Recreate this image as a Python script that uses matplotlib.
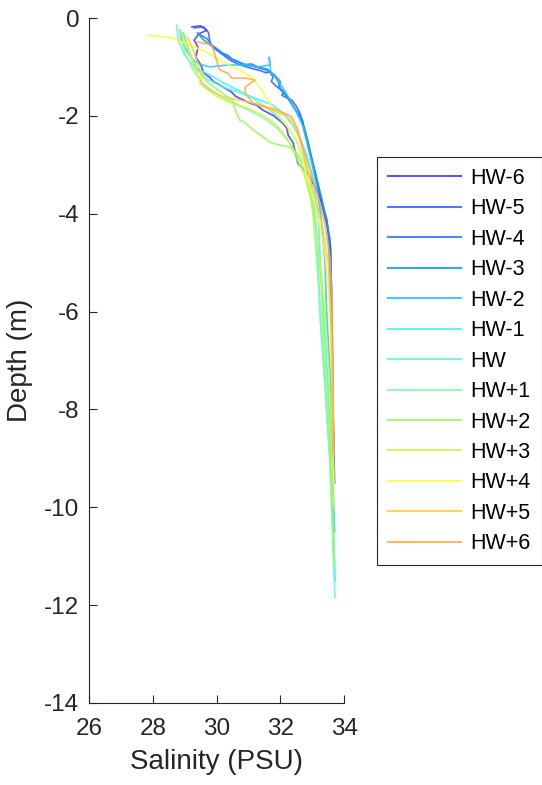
import matplotlib
matplotlib.use('Agg')
from matplotlib import pyplot as plt

plt.rcParams['font.family'] = ['Liberation Sans', 'DejaVu Sans']
plt.rcParams['axes.unicode_minus'] = False

labels = ['HW-6', 'HW-5', 'HW-4', 'HW-3', 'HW-2', 'HW-1', 'HW',
          'HW+1', 'HW+2', 'HW+3', 'HW+4', 'HW+5', 'HW+6']
colors = ['#3c3cf5', '#3a5aff', '#2a72ff', '#1296f5', '#22c6ff', '#40f4ff', '#5cf8d8',
          '#84f8ac', '#98f860', '#ccf444', '#fcfc3c', '#ffcc40', '#ffaa48']

# salinity (PSU) / depth (m) for each cast
sal_hw_m6 = [29.23, 29.5, 29.7, 29.45, 29.3, 29.42, 29.35, 29.5, 29.6, 29.8, 29.9, 30.0,
             30.3, 30.45, 30.6, 31.05, 31.25, 31.45, 31.8, 32.08, 32.2, 32.25, 32.4, 32.45,
             32.55, 32.9, 33.0, 33.24, 33.45, 33.55, 33.6, 33.62, 33.65, 33.68]
dep_hw_m6 = [-0.18, -0.16, -0.25, -0.32, -0.45, -0.6, -0.8, -0.95, -1.12, -1.22, -1.3,
             -1.33, -1.45, -1.5, -1.6, -1.74, -1.78, -1.88, -2.0, -2.15, -2.25, -2.4, -2.55,
             -2.7, -2.97, -3.2, -3.35, -3.66, -4.1, -4.6, -5.5, -6.8, -8.0, -9.0]

sal_hw_m5 = [29.3, 29.6, 29.75, 29.8, 29.9, 30.1, 30.3, 30.42, 30.7, 30.85, 31.05, 31.4,
             31.55, 31.67, 31.77, 31.72, 31.9, 32.1, 32.05, 32.36, 32.5, 32.61, 32.77, 32.85,
             32.93, 33.08, 33.24, 33.45, 33.58, 33.6, 33.62, 33.66, 33.7]
dep_hw_m5 = [-0.2, -0.18, -0.3, -0.52, -0.6, -0.7, -0.8, -0.86, -0.95, -0.98, -1.02,
             -1.08, -1.12, -1.1, -1.2, -1.3, -1.41, -1.5, -1.58, -1.68, -1.8, -1.94, -2.29,
             -2.5, -2.76, -3.17, -3.66, -4.2, -4.7, -5.8, -7.0, -8.4, -9.5]

sal_hw_m4 = [29.5, 29.7, 29.85, 30.2, 30.35, 30.5, 30.9, 31.1, 31.3, 31.6, 31.85, 31.95,
             32.0, 32.2, 32.3, 32.45, 32.7, 32.75, 32.85, 33.0, 33.15, 33.35, 33.55, 33.6,
             33.63, 33.65, 33.68]
dep_hw_m4 = [-0.35, -0.42, -0.55, -0.72, -0.76, -0.85, -0.95, -0.94, -1.0, -1.05, -1.2,
             -1.32, -1.45, -1.6, -1.7, -1.85, -2.1, -2.3, -2.5, -2.9, -3.3, -3.9, -4.5,
             -5.5, -6.8, -8.0, -9.2]

sal_hw_m3 = [29.4, 29.6, 29.9, 30.1, 30.3, 30.7, 30.8, 31.1, 31.5, 31.65, 31.8, 32.0, 31.95,
             32.15, 32.4, 32.5, 32.65, 32.8, 32.95, 33.1, 33.3, 33.5, 33.55, 33.6, 33.63,
             33.66]
dep_hw_m3 = [-0.3, -0.45, -0.6, -0.7, -0.78, -0.9, -0.95, -0.98, -1.05, -1.1, -1.15, -1.3,
             -1.42, -1.55, -1.8, -1.9, -2.05, -2.4, -2.8, -3.2, -3.7, -4.3, -5.2, -6.5,
             -7.8, -9.0]

sal_hw_m2 = [28.85, 28.9, 29.0, 29.26, 29.5, 29.8, 30.33, 30.95, 31.3, 31.67, 31.65, 31.7,
             31.95, 32.2, 32.45, 32.7, 32.85, 33.0, 33.15, 33.3, 33.4, 33.45, 33.55, 33.6,
             33.65, 33.7]
dep_hw_m2 = [-0.25, -0.45, -0.6, -0.86, -0.95, -1.0, -0.96, -0.96, -1.0, -0.96, -0.8,
             -1.1, -1.3, -1.55, -1.85, -2.2, -2.6, -3.0, -3.5, -4.2, -5.0, -6.0, -7.2, -8.4,
             -9.6, -10.5]

sal_hw_m1 = [28.95, 29.05, 29.2, 29.42, 29.6, 29.9, 30.2, 30.6, 31.05, 31.45, 31.77, 32.1,
             32.4, 32.65, 32.85, 33.0, 33.1, 33.2, 33.25, 33.35, 33.45, 33.55, 33.62, 33.68,
             33.72]
dep_hw_m1 = [-0.3, -0.5, -0.8, -1.06, -1.1, -1.2, -1.32, -1.45, -1.6, -1.7, -1.78, -1.95,
             -2.2, -2.5, -2.85, -3.2, -3.6, -4.2, -5.0, -6.0, -7.0, -8.2, -9.5, -10.8,
             -11.5]

sal_hw = [28.75, 28.8, 29.0, 29.3, 29.7, 30.2, 30.7, 31.05, 31.5, 31.9, 32.2, 32.5, 32.75,
          32.95, 33.05, 33.15, 33.2, 33.24, 33.3, 33.4, 33.46, 33.55, 33.6, 33.65, 33.71]
dep_hw = [-0.15, -0.45, -0.75, -1.0, -1.25, -1.41, -1.52, -1.61, -1.8, -2.0, -2.2, -2.5,
          -2.9, -3.3, -3.8, -4.5, -5.3, -5.8, -6.6, -7.5, -8.16, -9.0, -9.8, -10.8, -11.84]

sal_hw_p1 = [28.9, 29.0, 29.3, 29.6, 30.0, 30.5, 31.0, 31.5, 31.9, 32.3, 32.6, 32.85, 33.0,
             33.1, 33.2, 33.25, 33.35, 33.45, 33.55, 33.62, 33.68]
dep_hw_p1 = [-0.3, -0.7, -1.1, -1.35, -1.55, -1.72, -1.88, -2.05, -2.25, -2.55, -2.9, -3.3,
             -3.8, -4.6, -5.5, -6.2, -7.0, -8.0, -9.0, -10.0, -11.0]

sal_hw_p2 = [29.0, 29.1, 29.3, 29.7, 30.1, 30.5, 30.55, 30.6, 30.73, 30.85, 31.0, 31.27,
             31.4, 31.67, 32.0, 32.3, 32.52, 32.75, 32.9, 33.05, 33.2, 33.3, 33.35, 33.45,
             33.55, 33.6, 33.65, 33.7]
dep_hw_p2 = [-0.35, -0.6, -0.95, -1.3, -1.5, -1.68, -1.8, -1.9, -2.09, -2.12, -2.2, -2.35,
             -2.4, -2.54, -2.6, -2.64, -2.76, -3.0, -3.4, -4.0, -4.8, -5.6, -6.5, -7.5,
             -8.5, -9.5, -10.5, -11.2]

sal_hw_p3 = [28.85, 29.0, 29.2, 29.4, 29.6, 30.0, 30.5, 31.0, 31.5, 31.9, 32.25, 32.5,
             32.75, 32.95, 33.1, 33.25, 33.4, 33.5, 33.58, 33.62, 33.66]
dep_hw_p3 = [-0.25, -0.5, -0.8, -1.15, -1.4, -1.6, -1.75, -1.85, -2.0, -2.2, -2.5, -2.85,
             -3.2, -3.7, -4.3, -5.0, -6.0, -7.0, -8.0, -9.0, -10.0]

sal_hw_p4 = [27.85, 28.63, 29.17, 29.7, 30.2, 30.73, 31.14, 31.4, 31.55, 31.67, 31.9, 32.2,
             32.52, 32.7, 32.83, 33.0, 33.2, 33.4, 33.5, 33.58, 33.62, 33.65, 33.68]
dep_hw_p4 = [-0.35, -0.41, -0.55, -0.7, -0.9, -1.06, -1.23, -1.45, -1.62, -1.74, -1.95,
             -2.2, -2.5, -2.9, -3.25, -3.58, -4.1, -4.8, -5.5, -6.5, -7.5, -8.5, -9.5]

sal_hw_p5 = [29.1, 29.3, 29.45, 29.54, 29.48, 29.8, 30.2, 30.73, 31.2, 31.6, 32.0, 32.3,
             32.52, 32.7, 32.85, 33.05, 33.3, 33.5, 33.58, 33.62, 33.65, 33.68]
dep_hw_p5 = [-0.4, -0.7, -1.0, -1.2, -1.33, -1.47, -1.61, -1.68, -1.75, -1.85, -1.95, -2.05,
             -2.3, -2.7, -3.1, -3.6, -4.2, -5.0, -6.0, -7.0, -8.0, -8.9]

sal_hw_p6 = [29.42, 29.86, 30.0, 30.1, 30.36, 30.48, 30.95, 31.2, 30.9, 30.9, 31.14, 31.9,
             32.36, 32.55, 32.7, 32.93, 33.15, 33.4, 33.55, 33.62, 33.65, 33.66, 33.65]
dep_hw_p6 = [-0.49, -0.55, -0.86, -1.06, -1.13, -1.23, -1.23, -1.27, -1.41, -1.54, -1.74,
             -1.88, -2.02, -2.29, -2.64, -3.1, -3.58, -4.2, -4.9, -5.8, -7.0, -8.0, -8.9]

salinity = [sal_hw_m6, sal_hw_m5, sal_hw_m4, sal_hw_m3, sal_hw_m2, sal_hw_m1, sal_hw,
            sal_hw_p1, sal_hw_p2, sal_hw_p3, sal_hw_p4, sal_hw_p5, sal_hw_p6]
depth = [dep_hw_m6, dep_hw_m5, dep_hw_m4, dep_hw_m3, dep_hw_m2, dep_hw_m1, dep_hw,
         dep_hw_p1, dep_hw_p2, dep_hw_p3, dep_hw_p4, dep_hw_p5, dep_hw_p6]


def run():
    fig = plt.figure(figsize=(5.42, 7.85), dpi=100)
    ax = fig.add_axes([0.164, 0.1045, 0.471, 0.8725])

    for s, d, c, lab in zip(salinity, depth, colors, labels):
        ax.plot(s, d, color=c, lw=1.25, alpha=0.85, label=lab)

    ax.set_xlim(26, 34)
    ax.set_ylim(-14, 0)
    ax.set_xticks([26, 28, 30, 32, 34])
    ax.set_yticks(range(-14, 1, 2))
    ax.spines['top'].set_visible(False)
    ax.spines['right'].set_visible(False)
    for sp in ax.spines.values():
        sp.set_color('#262626')
        sp.set_linewidth(0.8)
    ax.tick_params(direction='in', length=6, width=0.8, colors='#262626',
                   labelsize=17.5)
    ax.tick_params(axis='x', pad=11)
    ax.tick_params(axis='y', pad=7)
    ax.set_xlabel('Salinity (PSU)', fontsize=20, color='#262626', labelpad=6)
    ax.set_ylabel('Depth (m)', fontsize=20, color='#262626', labelpad=8)

    leg = fig.legend(loc='upper left', bbox_to_anchor=(0.6956, 0.8), borderaxespad=0,
                     fontsize=15.5, handlelength=3.4, labelspacing=0.44,
                     handletextpad=0.45, borderpad=0.5, fancybox=False,
                     framealpha=1, edgecolor='#262626')
    leg.get_frame().set_linewidth(0.8)
    for line in leg.get_lines():
        line.set_linewidth(1.5)

    fig.savefig('out.png', dpi=100)


if __name__ == '__main__':
    run()
